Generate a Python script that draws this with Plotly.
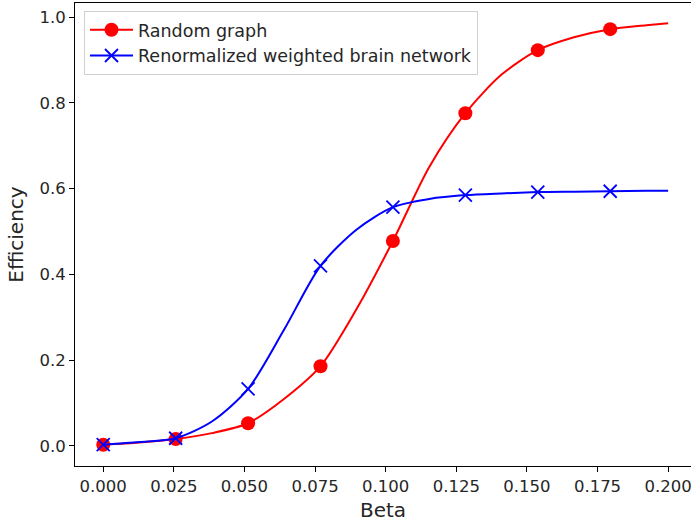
"""Efficiency vs beta: random graph against renormalized weighted brain network."""

import plotly.graph_objects as go

# values
beta = [0.0, 0.01282, 0.02564, 0.03846, 0.05128, 0.06410, 0.07692, 0.08974,
        0.10256, 0.11538, 0.12821, 0.14103, 0.15385, 0.16667, 0.17949,
        0.19231, 0.2]
random_eff = [0.003, 0.008, 0.016, 0.030, 0.053, 0.110, 0.186, 0.320,
              0.478, 0.650, 0.776, 0.866, 0.923, 0.953, 0.972, 0.981, 0.986]
brain_eff = [0.003, 0.009, 0.018, 0.057, 0.133, 0.272, 0.420, 0.505,
             0.557, 0.576, 0.585, 0.589, 0.592, 0.593, 0.594, 0.595, 0.595]
marker_idx = [0, 2, 4, 6, 8, 10, 12, 14]

x_ticks = [0.0, 0.025, 0.05, 0.075, 0.1, 0.125, 0.15, 0.175, 0.2]
y_ticks = [0.0, 0.2, 0.4, 0.6, 0.8, 1.0]

FONT = "DejaVu Sans"
SERIES = [
    ("Random graph", random_eff, "#ff0000", dict(symbol="circle", size=14, line_width=0)),
    ("Renormalized weighted brain network", brain_eff, "#0000ff",
     dict(symbol="x-thin", size=13, line=dict(width=1.8, color="#0000ff"))),
]

fig = go.Figure()
for i, (name, vals, colour, mk) in enumerate(SERIES):
    fig.add_trace(go.Scatter(
        x=beta, y=vals, mode="lines",
        line=dict(color=colour, width=2, shape="spline", smoothing=0.8),
        showlegend=False, hoverinfo="skip",
    ))
    fig.add_trace(go.Scatter(
        x=[beta[k] for k in marker_idx], y=[vals[k] for k in marker_idx],
        mode="markers", marker=dict(color=colour, **mk),
        name=name, showlegend=False,
    ))
    # legend-only entry showing line + marker together
    fig.add_trace(go.Scatter(
        x=[None], y=[None], mode="lines+markers", name=name,
        line=dict(color=colour, width=2),
        marker=dict(color=colour, **mk),
        legendgroup=f"g{i}",
    ))

axis_common = dict(
    showline=True, linecolor="black", linewidth=1,
    ticks="outside", ticklen=5, tickwidth=1, tickcolor="black",
    showgrid=False, zeroline=False, automargin=False,
    ticklabeloverflow="allow",
    tickfont=dict(family=FONT, size=16.5, color="#262626"),
)

fig.update_layout(
    width=691, height=525,
    margin=dict(l=75, r=0, t=3, b=59),
    plot_bgcolor="white", paper_bgcolor="white",
    font=dict(family=FONT, size=16.5, color="#262626"),
    xaxis=dict(
        range=[-0.01, 0.2081], tickvals=x_ticks, tickformat=".3f",
        mirror=True, title=dict(text="Beta", standoff=8), **axis_common,
    ),
    yaxis=dict(
        range=[-0.0467, 1.033], tickvals=y_ticks, tickformat=".1f",
        title=dict(text="Efficiency", standoff=10), **axis_common,
    ),
    legend=dict(
        x=0.0146, y=0.983, xanchor="left", yanchor="top",
        bgcolor="rgba(255,255,255,0.8)", bordercolor="#d0d0d0", borderwidth=1,
        font=dict(family=FONT, size=17.5, color="#262626"),
        itemwidth=43, tracegroupgap=0,
    ),
)

# page body has an 8px default margin; drop it so the figure sits at the corner
fig.write_html(
    "out.html",
    config={"displayModeBar": False},
    post_script="document.body.style.margin='0';",
)
